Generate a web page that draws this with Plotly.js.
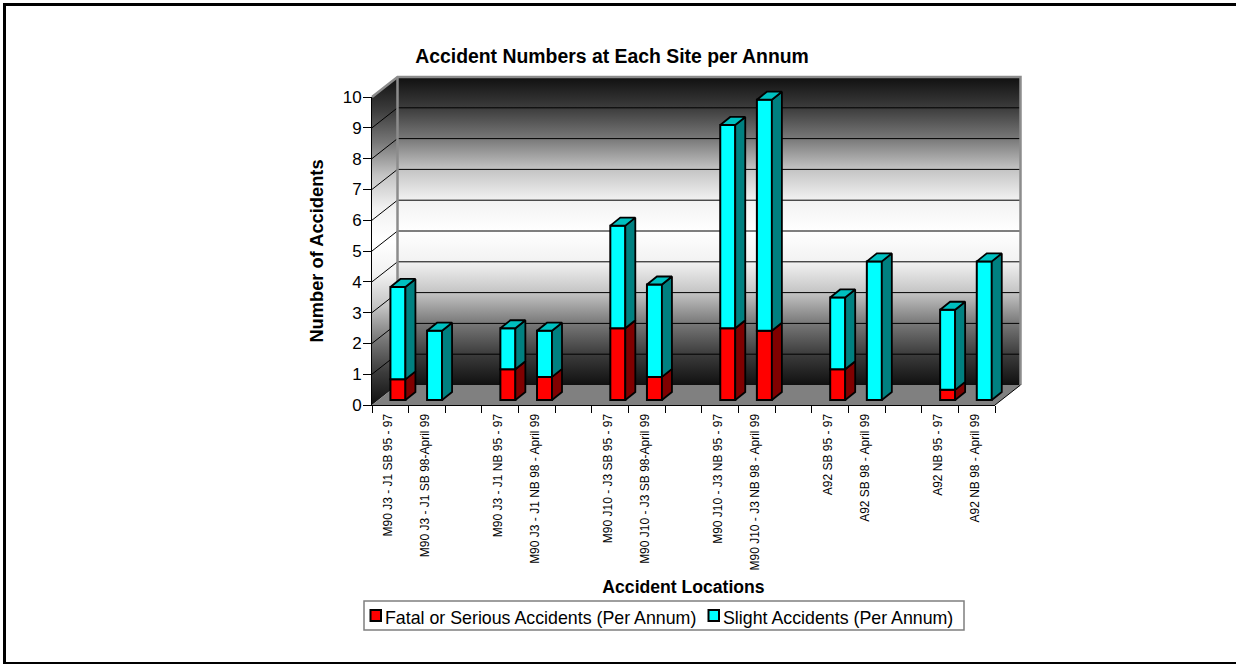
<!DOCTYPE html>
<html>
<head>
<meta charset="utf-8">
<title>Accident Numbers at Each Site per Annum</title>
<script src="https://cdn.plot.ly/plotly-3.0.1.min.js"></script>
<style>html,body{margin:0;padding:0;background:#fff;overflow:hidden}#chart{width:1236px;height:664px}</style>
</head>
<body>
<div id="chart"></div>
<script>
// Site labels, one per category slot; blank slots separate the pairs of sites.
const locations = [
  "M90 J3 - J1 SB 95 - 97", "M90 J3 - J1 SB 98-April 99", "",
  "M90 J3 - J1 NB 95 - 97", "M90 J3 - J1 NB 98 - April 99", "",
  "M90 J10 - J3 SB 95 - 97", "M90 J10 - J3 SB 98-April 99", "",
  "M90 J10 - J3 NB 95 - 97", "M90 J10 - J3 NB 98 - April 99", "",
  "A92 SB 95 - 97", "A92 SB 98 - April 99", "",
  "A92 NB 95 - 97", "A92 NB 98 - April 99"
];
const fatalOrSerious = [0.67, 0, null, 1, 0.75, null, 2.33, 0.75, null, 2.33, 2.25, null, 1, 0, null, 0.33, 0];
const slight = [3, 2.25, null, 1.33, 1.5, null, 3.33, 3, null, 6.6, 7.5, null, 2.33, 4.5, null, 2.6, 4.5];
const yTicks = [0, 1, 2, 3, 4, 5, 6, 7, 8, 9, 10];

const seriesNames = ["Fatal or Serious Accidents (Per Annum)", "Slight Accidents (Per Annum)"];
const colours = {
  fatal: "#ff0000", fatalSide: "#800000",
  slight: "#00ffff", slightSide: "#008080", slightTop: "#00c0c0",
  floor: "#808080", wallEdge: "#8c8c8c"
};

// Front plane of the 3-D box and the larger drawing area around it, in page pixels.
const page = {w: 1236, h: 664};
const front = {left: 372, right: 995, top: 97, bottom: 405};
const box = {left: 368, right: 1026, top: 73, bottom: 408};
const slotCount = locations.length;
const pxX = (front.right - front.left) / slotCount;
const pxY = (front.bottom - front.top) / 10;

// Oblique projection: how far the back wall and the bars sit behind the front plane.
const wallDx = 25.5 / pxX, wallDy = 20 / pxY;
const barDx = 10 / pxX, barDy = 8 / pxY;
const barShiftX = 7.6 / pxX, barLift = 5 / pxY;
const barWidth = 15 / pxX;

const slots = locations.map((_, i) => i);
const filled = slots.filter(i => locations[i] !== "");
const barX = i => i + 0.5 + barShiftX;

// Builds closed polygons, separated by gaps, as a pair of coordinate lists.
function polygons(list) {
  const xs = [], ys = [];
  list.forEach(p => {
    p.forEach(c => { xs.push(c[0]); ys.push(c[1]); });
    xs.push(p[0][0]); ys.push(p[0][1]);
    xs.push(null); ys.push(null);
  });
  return {x: xs, y: ys};
}

function sideFace(i, from, to) {
  const r = barX(i) + barWidth / 2;
  return [[r, from], [r + barDx, from + barDy], [r + barDx, to + barDy], [r, to]];
}
function topFace(i, at) {
  const l = barX(i) - barWidth / 2, r = l + barWidth;
  return [[l, at], [l + barDx, at + barDy], [r + barDx, at + barDy], [r, at]];
}

// Walls fade from near black at the edges to white at mid height.
const wallScale = [
  [0, "#101010"], [0.1, "#3c3c3c"], [0.2, "#787878"], [0.3, "#c4c4c4"], [0.4, "#f2f2f2"], [0.5, "#ffffff"],
  [0.6, "#f2f2f2"], [0.7, "#c4c4c4"], [0.8, "#787878"], [0.9, "#3c3c3c"], [1, "#101010"]
];
const wallTop = 10 + wallDy;

const leftWall = polygons([[[0, 0], [wallDx, wallDy], [wallDx, wallTop], [0, 10]]]);
const backWall = polygons([[[wallDx, wallDy], [slotCount + wallDx, wallDy], [slotCount + wallDx, wallTop], [wallDx, wallTop]]]);
const floor = polygons([[[0, 0], [slotCount, 0], [slotCount + wallDx, wallDy], [wallDx, wallDy]]]);

const gridX = [], gridY = [];
yTicks.slice(1).forEach(v => {
  gridX.push(0, wallDx, slotCount + wallDx, null);
  gridY.push(v, v + wallDy, v + wallDy, null);
});

const shell = {xaxis: "x", yaxis: "y", hoverinfo: "skip", showlegend: false, mode: "lines"};
const solid = {xaxis: "x2", yaxis: "y2", hoverinfo: "skip", showlegend: false, mode: "lines", fill: "toself",
  line: {color: "#000", width: 1.8}};

const fatalBase = fatalOrSerious.map(v => v === null ? null : barLift);
const slightBase = fatalOrSerious.map(v => v === null ? null : barLift + v);

const traces = [
  Object.assign({}, shell, {x: leftWall.x, y: leftWall.y, fill: "toself", line: {width: 0},
    fillgradient: {type: "vertical", colorscale: wallScale, start: wallTop, stop: 0}}),
  Object.assign({}, shell, {x: backWall.x, y: backWall.y, fill: "toself", line: {width: 0},
    fillgradient: {type: "vertical", colorscale: wallScale, start: wallTop, stop: wallDy}}),
  Object.assign({}, shell, {x: floor.x, y: floor.y, fill: "toself", fillcolor: colours.floor, line: {width: 0}}),
  Object.assign({}, shell, {x: gridX, y: gridY, line: {color: "#000", width: 1}}),
  Object.assign({}, shell, {
    x: [0, wallDx, slotCount + wallDx, slotCount + wallDx, null, wallDx, wallDx],
    y: [10, wallTop, wallTop, wallDy, null, wallTop, wallDy],
    line: {color: colours.wallEdge, width: 2.5}}),
  Object.assign({}, shell, {x: [slotCount, slotCount + wallDx], y: [0, wallDy], line: {color: "#000", width: 1}}),

  {type: "bar", name: seriesNames[0], xaxis: "x2", yaxis: "y2", x: filled.map(barX), y: filled.map(i => fatalOrSerious[i]),
    base: filled.map(i => fatalBase[i]), width: barWidth, showlegend: false, hoverinfo: "skip",
    marker: {color: colours.fatal, line: {color: "#000", width: 2}}},
  {type: "bar", name: seriesNames[1], xaxis: "x2", yaxis: "y2", x: filled.map(barX), y: filled.map(i => slight[i]),
    base: filled.map(i => slightBase[i]), width: barWidth, showlegend: false, hoverinfo: "skip",
    marker: {color: colours.slight, line: {color: "#000", width: 2}}},

  Object.assign({}, solid, polygons(filled.filter(i => fatalOrSerious[i] > 0)
    .map(i => sideFace(i, barLift, barLift + fatalOrSerious[i]))), {fillcolor: colours.fatalSide}),
  Object.assign({}, solid, polygons(filled
    .map(i => sideFace(i, barLift + fatalOrSerious[i], barLift + fatalOrSerious[i] + slight[i]))), {fillcolor: colours.slightSide}),
  Object.assign({}, solid, polygons(filled
    .map(i => topFace(i, barLift + fatalOrSerious[i] + slight[i]))), {fillcolor: colours.slightTop}),

  // Empty trace that keeps the front-plane axes, which carry ticks and titles, on the page.
  {type: "scatter", mode: "lines", x: [null], y: [null], xaxis: "x3", yaxis: "y3", hoverinfo: "skip", showlegend: false}
];

// Page-pixel placement helpers for the legend box and the outer border.
const boxW = box.right - box.left, boxH = box.bottom - box.top;
const paperX = px => (px - box.left) / boxW;
const paperY = py => (box.bottom - py) / boxH;
const paperShape = (x0, y0, x1, y1, extra) => Object.assign({type: "rect", xref: "paper", yref: "paper",
  x0: paperX(x0), x1: paperX(x1), y0: paperY(y0), y1: paperY(y1)}, extra);
const legendLabel = (text, px) => ({text, xref: "paper", yref: "paper", x: paperX(px), y: paperY(618),
  xanchor: "left", yanchor: "middle", showarrow: false, font: {size: 17.8, color: "#000"}});

const rangeX = [(box.left - front.left) / pxX, (box.right - front.left) / pxX];
const rangeY = [(front.bottom - box.bottom) / pxY, (front.bottom - box.top) / pxY];

const layout = {
  width: page.w, height: page.h,
  margin: {l: box.left, r: page.w - box.right, t: box.top, b: page.h - box.bottom, pad: 0, autoexpand: false},
  paper_bgcolor: "#fff", plot_bgcolor: "rgba(0,0,0,0)",
  font: {family: "Liberation Sans, Arial, sans-serif", color: "#000"},
  barmode: "overlay",
  showlegend: false,
  title: {text: "<b>Accident Numbers at Each Site per Annum</b>", x: 612 / page.w, xanchor: "center",
    y: 1 - 56 / page.h, yanchor: "middle", font: {size: 19.4}},
  xaxis: {range: rangeX, domain: [0, 1], anchor: "y", visible: false, fixedrange: true},
  yaxis: {range: rangeY, domain: [0, 1], anchor: "x", visible: false, fixedrange: true},
  xaxis2: {range: rangeX, overlaying: "x", anchor: "y2", visible: false, fixedrange: true},
  yaxis2: {range: rangeY, overlaying: "y", anchor: "x2", visible: false, fixedrange: true},
  xaxis3: {
    range: [0, slotCount], domain: [paperX(front.left), paperX(front.right)], anchor: "y3", fixedrange: true,
    showgrid: false, zeroline: false, showline: true, linecolor: "#000", linewidth: 1,
    tickmode: "array", tickvals: filled.map(i => i + 0.5), ticktext: filled.map(i => locations[i]),
    ticks: "", tickangle: -90, tickfont: {size: 12}, ticklabelstandoff: 3, ticklabelshift: -2,
    minor: {tickmode: "array", tickvals: slots.concat([slotCount]), ticks: "outside", ticklen: 7, tickwidth: 1, tickcolor: "#000", showgrid: false},
    title: {text: "<b>Accident Locations</b>", font: {size: 17.6}, standoff: 11}
  },
  yaxis3: {
    range: [0, 10], domain: [paperY(front.bottom), paperY(front.top)], anchor: "x3", fixedrange: true,
    showgrid: false, zeroline: false, showline: true, linecolor: "#000", linewidth: 1,
    tickmode: "array", tickvals: yTicks, ticks: "outside", ticklen: 8, tickwidth: 1, tickcolor: "#000",
    tickfont: {size: 17}, ticklabelstandoff: -2,
    title: {text: "<b>Number of Accidents</b>", font: {size: 18.3}, standoff: 14}
  },
  shapes: [
    // Outer border
    paperShape(4.5, 4.5, 1240, 663.5, {line: {color: "#000", width: 3}, fillcolor: "rgba(0,0,0,0)"}),
    // Legend box and keys
    paperShape(364, 601, 964, 630, {line: {color: "#7f7f7f", width: 1.5}, fillcolor: "#fff"}),
    paperShape(370.5, 610, 381, 621, {line: {color: "#000", width: 2}, fillcolor: colours.fatal}),
    paperShape(708.5, 610, 719, 621, {line: {color: "#000", width: 2}, fillcolor: colours.slight})
  ],
  annotations: [legendLabel(seriesNames[0], 383), legendLabel(seriesNames[1], 721)]
};

Plotly.newPlot("chart", traces, layout, {displayModeBar: false, staticPlot: true});
</script>
</body>
</html>
